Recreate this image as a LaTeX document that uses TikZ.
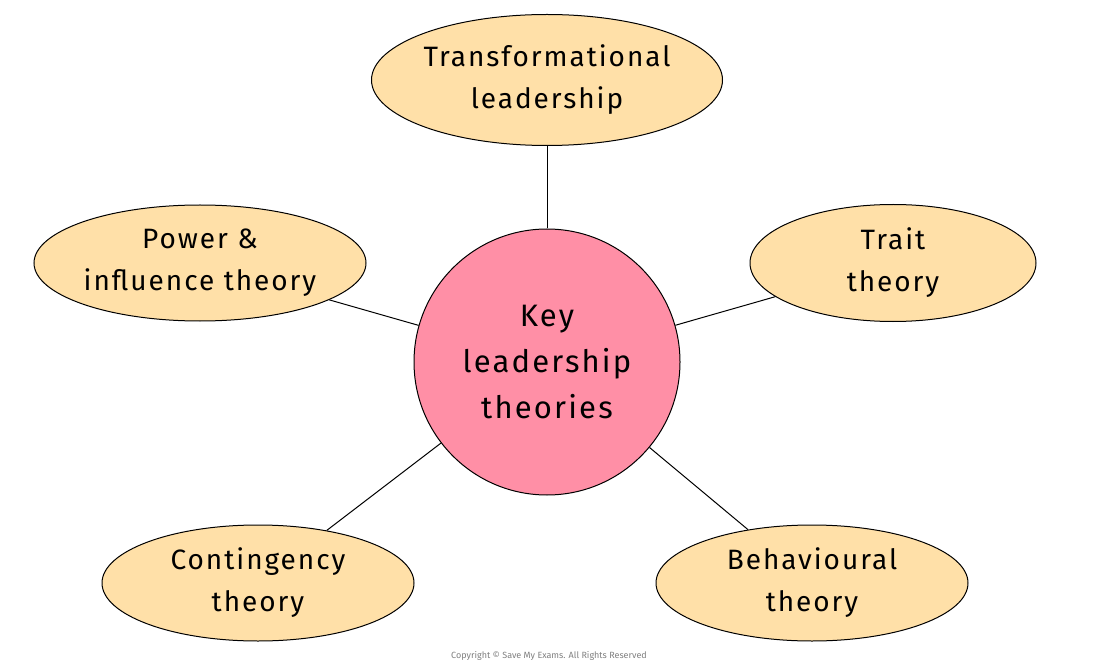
\documentclass[tikz,border=0pt]{standalone}
\usepackage{fontspec}
\setmainfont{Fira Sans}[LetterSpace=7]
\usetikzlibrary{shapes.geometric}
\definecolor{pinkc}{HTML}{FF8FA6}
\definecolor{tanc}{HTML}{FFE0A8}
\tikzset{
 leaf/.style={ellipse,draw=black,line width=1pt,fill=tanc,inner sep=0pt,align=center,font=\fontsize{28}{42}\selectfont},
 hub/.style={circle,draw=black,line width=1pt,fill=pinkc,inner sep=0pt,minimum size=266pt,align=center,font=\fontsize{31}{46}\selectfont},
 link/.style={line width=1pt}
}
\begin{document}
\begin{tikzpicture}[x=1pt,y=-1pt]
\useasboundingbox[fill=white] (0,0) rectangle (1100,668);
\node[hub] (c) at (547,362) {Key\\leadership\\theories};
\node[leaf,minimum width=351pt,minimum height=131pt] (t) at (547,80) {Transformational\\leadership};
\node[leaf,minimum width=332pt,minimum height=116pt] (p) at (200,263) {Power \&\\influence theory};
\node[leaf,minimum width=286pt,minimum height=117pt] (tr) at (893,263) {Trait\\theory};
\node[leaf,minimum width=312pt,minimum height=116pt] (co) at (258,583) {Contingency\\theory};
\node[leaf,minimum width=312pt,minimum height=116pt] (b) at (812,583) {Behavioural\\theory};
\draw[link] (c) -- (t);
\draw[link] (c) -- (p);
\draw[link] (c) -- (tr);
\draw[link] (c) -- (co);
\draw[link] (c) -- (b);
\node[text=gray,font=\fontsize{9}{11}\selectfont\addfontfeature{LetterSpace=0}] (cr) at (549,656) {Copyright © Save My Exams. All Rights Reserved};
\end{tikzpicture}
\end{document}
